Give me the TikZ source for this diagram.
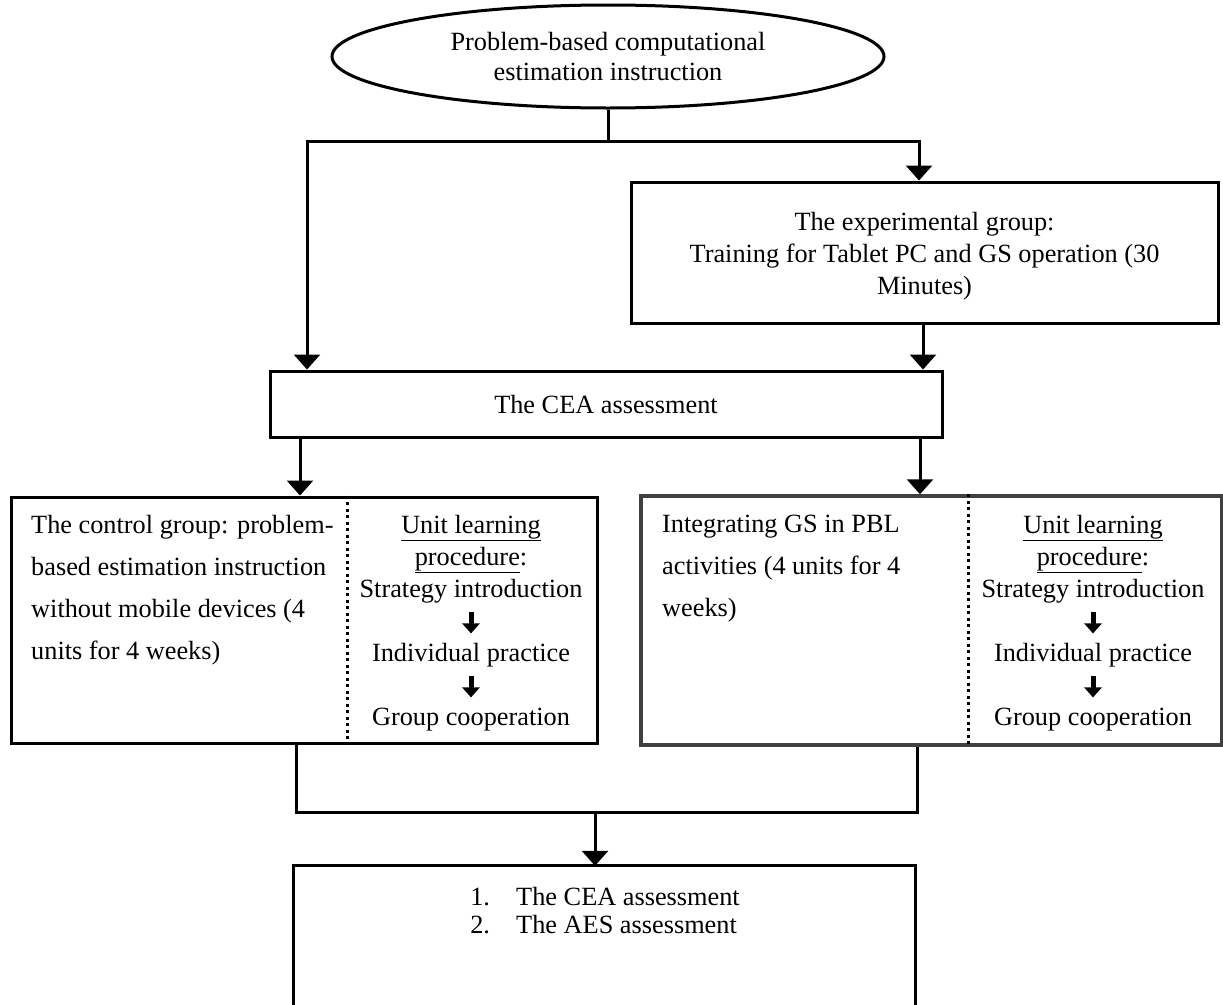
\documentclass[tikz,border=0pt]{standalone}
\usepackage{fontspec}
\setmainfont{Liberation Serif}
\usetikzlibrary{arrows.meta,shapes.geometric}
\newcommand{\dnarr}{\tikz[baseline=0pt]{\draw[line width=5pt,-{Triangle[width=17pt,length=10pt]}] (0pt,17pt)--(0pt,-4pt);}}
\begin{document}
\begin{tikzpicture}[x=1pt,y=-1pt,
  boxline/.style={draw, line width=3pt, inner sep=0pt},
  conn/.style={line width=3pt},
  arr/.style={line width=3pt,-{Triangle[width=26pt,length=15pt]}},
  dotsep/.style={line width=3pt, dash pattern=on 3pt off 3.5pt},
  txt/.style={font=\fontsize{26.3pt}{32pt}\selectfont, inner sep=0pt},
  txtwide/.style={font=\fontsize{26.3pt}{42pt}\selectfont, inner sep=0pt},
]
\useasboundingbox (0,0) rectangle (1223,1004);
\fill[white] (0,0) rectangle (1223,1004);

% top ellipse
\node[draw, ellipse, line width=3pt, minimum width=552pt, minimum height=103pt, inner sep=0pt,
      align=center, font=\fontsize{26.3pt}{30pt}\selectfont] (top) at (608,56.5)
      {Problem-based computational\\estimation instruction};

% boxes
\node[boxline, minimum width=587pt, minimum height=141pt] (exp) at (924.5,252.5) {};
\node[txt, align=center] (exptxt) at (924.5,256) {The experimental group:\\Training for Tablet PC and GS operation (30\\Minutes)};

\node[boxline, minimum width=672pt, minimum height=66pt] (cea) at (606,404) {};
\node[txt] (ceatxt) at (606,404) {The CEA assessment};

\node[boxline, minimum width=586pt, minimum height=246pt] (ctrl) at (304,620) {};
\node[boxline, draw=black!75, line width=3.5pt, minimum width=581pt, minimum height=249pt] (rbox) at (931.5,620.5) {};

% open bottom box
\node[minimum width=621pt, minimum height=170pt, inner sep=0pt] (bot) at (604.5,951) {};
\draw[line width=3pt] (bot.south west) -- (bot.north west) -- (bot.north east) -- (bot.south east);

% dotted dividers
\coordinate (d1) at (347,0);
\coordinate (d2) at (968,0);
\draw[dotsep] (ctrl.north -| d1) -- (ctrl.south -| d1);
\draw[dotsep] (rbox.north -| d2) -- (rbox.south -| d2);

% texts in control box
\node[txtwide, align=left, anchor=north west] (ctrltxt) at (31,515)
 {The control group: problem-\\based estimation instruction\\without mobile devices (4\\units for 4 weeks)};
\node[txt, align=center, anchor=north] (ctrlproc) at (471,515)
 {\underline{Unit learning}\\\underline{procedure}:\\Strategy introduction\\\dnarr\\Individual practice\\\dnarr\\Group cooperation};

% texts in right box
\node[txtwide, align=left, anchor=north west] (rtxt) at (662,515)
 {Integrating GS in PBL\\activities (4 units for 4\\weeks)};
\node[txt, align=center, anchor=north] (rproc) at (1093,515)
 {\underline{Unit learning}\\\underline{procedure}:\\Strategy introduction\\\dnarr\\Individual practice\\\dnarr\\Group cooperation};

% bottom text
\node[font=\fontsize{26.3pt}{28pt}\selectfont, inner sep=0pt, align=left, anchor=north] (bottxt) at (605,887)
 {\makebox[46pt][l]{1.}The CEA assessment\\\makebox[46pt][l]{2.}The AES assessment};

% connectors
\coordinate (j1) at (608,141);
\coordinate (jl) at (307,141);
\coordinate (jr) at (919,141);
\draw[conn] (top.south) -- (j1);
\draw[arr] (j1) -- (jl) -- (jl |- cea.north);
\draw[arr] (j1) -- (jr) -- (jr |- exp.north);
\coordinate (e1) at (923,0);
\draw[arr] (exp.south -| e1) -- (cea.north -| e1);
\coordinate (a1) at (300,0);
\coordinate (a2) at (920,0);
\draw[arr] (cea.south -| a1) -- (ctrl.north -| a1);
\draw[arr] (cea.south -| a2) -- (rbox.north -| a2);
\coordinate (m1) at (296,812);
\coordinate (m2) at (917,812);
\coordinate (m0) at (595,812);
\draw[conn] (ctrl.south -| m1) -- (m1) -- (m2) -- (rbox.south -| m2);
\draw[arr] (m0) -- (m0 |- bot.north);
\end{tikzpicture}
\end{document}
